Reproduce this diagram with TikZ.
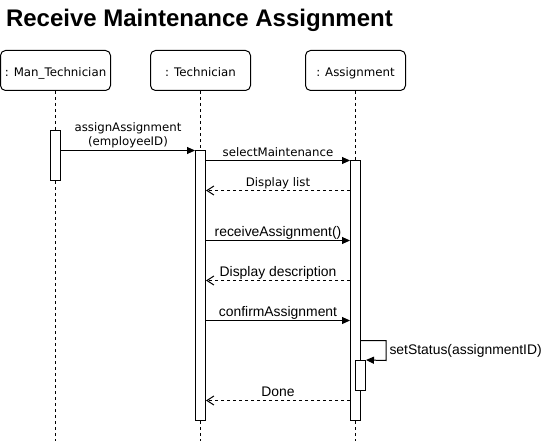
\documentclass[tikz,border=0pt]{standalone}
\usepackage{fontspec}
\setmainfont{Liberation Sans}
\newfontfamily\dv{DejaVu Sans}
\usetikzlibrary{arrows.meta}
\begin{document}
\begin{tikzpicture}[x=1pt,y=-1pt,line width=1pt,
  objbox/.style={draw,rounded corners=5pt,minimum width=100pt,minimum height=40pt,inner sep=0pt,
     font=\dv\fontsize{11.8}{14}\selectfont,text height=12pt,text depth=0pt},
  lifeline/.style={dash pattern=on 3pt off 3pt},
  actbar/.style={draw,fill=white,minimum width=10pt,inner sep=0pt},
  sync/.style={-{Triangle[length=8pt,width=7pt]}},
  reply/.style={dash pattern=on 3pt off 3pt,-{Straight Barb[length=7pt,width=9pt]}},
  dvlab/.style={font=\dv\fontsize{11.75}{14.1}\selectfont},
  arlab/.style={font=\fontsize{13.9}{16}\selectfont},
  msglab/.style={midway,anchor=base,inner sep=0pt,yshift=4pt}]
\useasboundingbox (0,0) rectangle (543,441);
% title
\node[anchor=base west,inner sep=0pt,font=\bfseries\fontsize{24}{28}\selectfont] (title) at (5.5,26.5) {Receive Maintenance Assignment};
% lifeline heads
\node[objbox,minimum width=110pt] (man) at (55.5,70.5) {: Man\_Technician};
\node[objbox] (tech) at (200.5,70.5) {: Technician};
\node[objbox] (asg) at (355.5,70.5) {: Assignment};
% lifelines
\coordinate (bottom) at (0,441);
\draw[lifeline] (man.south) -- (man.south |- bottom);
\draw[lifeline] (tech.south) -- (tech.south |- bottom);
\draw[lifeline] (asg.south) -- (asg.south |- bottom);
% activation bars
\node[actbar,minimum height=50pt] (mb) at (55.5,155.5) {};
\node[actbar,minimum height=270pt] (tb) at (200.5,285.5) {};
\node[actbar,minimum height=260pt] (ab) at (355.5,290.5) {};
\node[actbar,minimum height=30pt] (nb) at (360.5,375.5) {};
% message levels
\coordinate (y1) at (0,150.5);
\coordinate (y2) at (0,160.5);
\coordinate (y3) at (0,190.5);
\coordinate (y4) at (0,240.5);
\coordinate (y5) at (0,280.5);
\coordinate (y6) at (0,320.5);
\coordinate (y7) at (0,340.5);
\coordinate (y8) at (0,400.5);
% messages
\draw[sync] (mb.east |- y1) -- node[midway,anchor=south,inner sep=0pt,yshift=2pt,align=center,dvlab] {assignAssignment\\(employeeID)} (tb.west |- y1);
\draw[sync] (tb.east |- y2) -- node[msglab,dvlab] {selectMaintenance} (ab.west |- y2);
\draw[reply] (ab.west |- y3) -- node[msglab,dvlab] {Display list} (tb.east |- y3);
\draw[sync] (tb.east |- y4) -- node[msglab,arlab] {receiveAssignment()} (ab.west |- y4);
\draw[reply] (ab.west |- y5) -- node[msglab,arlab] {Display description} (tb.east |- y5);
\draw[sync] (tb.east |- y6) -- node[msglab,arlab] {confirmAssignment} (ab.west |- y6);
\draw[sync] (ab.east |- y7) -- ++(25,0) -- node[right,inner sep=3pt,arlab] {setStatus(assignmentID)} ++(0,20) -- (nb.north east);
\draw[reply] (ab.west |- y8) -- node[msglab,arlab] {Done} (tb.east |- y8);
\end{tikzpicture}
\end{document}
